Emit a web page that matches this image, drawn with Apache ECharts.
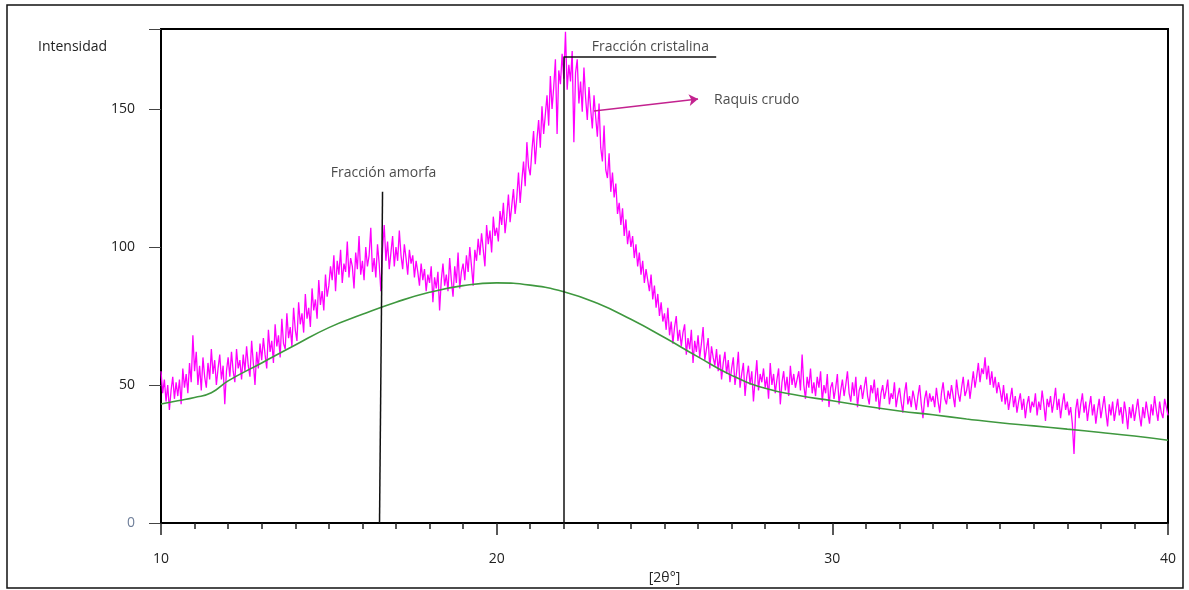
<!DOCTYPE html>
<html>
<head>
<meta charset="utf-8">
<script src="https://cdn.jsdelivr.net/npm/echarts@6/dist/echarts.min.js"></script>
<style>
html,body{margin:0;padding:0;background:#fff;}
#chart{width:1189px;height:590px;}
</style>
</head>
<body>
<div id="chart"></div>
<script>
// 2θ grid of the measured pattern
const thetaStart = 10;
const thetaStep = 0.05;

// Raquis crudo intensities (step 0.05°)
const intensity10to15 = [
  55,47,52,44,50,41,48,53,45,51,
  46,52,43,56,49,54,47,58,51,68,
  55,62,50,57,48,60,53,49,58,52,
  63,54,59,50,56,61,52,57,43,55,
  60,53,62,55,51,63,56,59,52,61,
  55,64,57,53,66,58,50,62,56,65,
  59,67,61,56,70,62,66,58,72,64,
  68,60,74,65,63,76,67,71,64,78,
  70,66,80,72,76,69,83,74,78,71,
  85,77,81,74,88,79,84,77,90,82
];
const intensity15to20 = [
  86,93,88,97,84,95,90,99,87,94,
  91,102,89,96,93,85,98,92,104,90,
  95,88,100,93,97,107,91,96,89,101,
  94,84,99,108,95,102,92,98,104,93,
  100,95,106,97,92,101,96,90,99,94,
  97,89,95,91,86,94,88,92,84,90,
  87,93,80,89,85,91,77,88,94,86,
  90,84,96,88,82,93,87,98,85,91,
  94,88,97,91,100,93,86,99,95,103,
  97,105,99,93,108,101,106,98,111,104
];
const intensity20to25 = [
  107,102,113,108,116,105,111,119,109,115,
  121,112,118,127,116,124,131,122,138,129,
  126,135,142,130,139,146,136,151,141,148,
  155,144,162,150,158,168,141,164,159,170,
  161,178,157,166,160,171,138,163,168,152,
  160,149,165,154,146,158,150,143,155,147,
  140,152,136,131,144,128,125,134,120,127,
  118,123,112,116,108,114,104,110,101,106,
  100,104,96,101,93,98,90,95,87,92,
  88,84,90,81,86,78,83,75,80,73
];
const intensity25to30 = [
  76,70,78,68,73,65,71,75,66,70,
  64,69,72,61,67,63,70,58,66,62,
  68,60,65,71,59,63,67,56,64,60,
  57,63,55,61,52,58,62,54,59,51,
  56,60,50,55,62,49,54,58,46,53,
  57,50,55,44,52,59,48,54,51,56,
  49,53,45,58,50,54,47,52,56,43,
  51,55,48,53,46,57,50,54,49,52,
  55,48,61,50,45,53,49,56,47,51,
  46,53,49,55,44,50,47,54,42,49
];
const intensity30to35 = [
  51,45,49,54,43,48,52,46,50,55,
  47,44,51,46,53,42,48,50,45,49,
  53,46,43,50,47,52,44,49,41,47,
  50,45,48,52,43,47,45,51,42,46,
  49,44,40,47,51,43,46,42,48,45,
  41,46,50,43,38,45,48,42,47,44,
  46,42,49,44,40,47,51,45,43,48,
  45,50,46,42,52,47,44,49,53,46,
  48,52,45,50,55,49,53,58,51,56,
  54,60,52,57,50,55,49,53,47,51
];
const intensity35to40 = [
  48,44,50,43,47,41,45,49,42,46,
  40,44,47,41,45,38,43,46,40,44,
  42,47,39,44,41,48,43,37,45,42,
  46,40,44,49,41,45,38,43,47,41,
  44,39,42,36,25,41,45,38,43,47,
  40,44,37,42,46,39,43,36,41,45,
  38,42,46,40,35,43,39,44,37,41,
  45,39,42,36,44,40,34,42,38,43,
  37,41,45,39,35,42,38,44,40,36,
  43,39,46,41,37,44,40,38,45,42,
  39
];

// Amorphous baseline (green)
const baselineTheta  = [10,10.5,11,11.5,12,13,14,15,16,17,18,19,20,21,22,23,24,25,26,27,28,29,30,31,32,33,34,35,36,37,38,39,40];
const baselineValues = [43.1,44.3,45.5,47.2,51.5,58,64.5,70.8,75.6,80,83.6,86,87,86.2,83.8,79.6,73.8,67.2,60.2,53.5,48.8,46.2,44.3,42.3,40.6,39.2,37.7,36.3,35.2,34,32.8,31.5,30];

// Axis
const xTicks = [10,20,30,40];
const yTicks = [0,50,100,150];

// Annotations (data coordinates)
const amorphLine   = [[16.51,0],[16.6,120]];
const crystalLineV = [[21.99,0],[21.99,168.8]];
const crystalLineH = [[21.99,168.8],[26.54,168.8]];
const rawArrow     = [[22.9,149.3],[26.0,153.6]];
const textAmorph   = {name:'Fracción amorfa', value:[16.63,126.8]};
const textCrystal  = {name:'Fracción cristalina', value:[24.58,172.6]};
const textRaw      = {name:'Raquis crudo', value:[27.75,153.3]};

const intensities = [].concat(intensity10to15,intensity15to20,intensity20to25,intensity25to30,intensity30to35,intensity35to40);
const rawData = intensities.map((v,i)=>[+(thetaStart + i*thetaStep).toFixed(2), v]);
const baseData = baselineTheta.map((t,i)=>[t, baselineValues[i]]);

const font = '"Open Sans", sans-serif';
const chart = echarts.init(document.getElementById('chart'), null, {renderer:'canvas'});
const seg = (a)=>[{coord:a[0]},{coord:a[1]}];

chart.setOption({
  animation:false,
  backgroundColor:'#fff',
  grid:{left:161, top:29, right:21, bottom:67, outerBoundsMode:'none', containLabel:false,
        show:true, borderColor:'#000', borderWidth:2, backgroundColor:'transparent'},
  xAxis:{
    type:'value', min:10, max:40, interval:10,
    name:'[2θ°]', nameLocation:'middle', nameGap:46,
    nameTextStyle:{fontFamily:font, fontSize:14, color:'#222'},
    axisLine:{show:true, onZero:false, lineStyle:{color:'#000', width:2}},
    axisTick:{show:true, inside:false, length:12, lineStyle:{color:'#222', width:1.5}},
    minorTick:{show:true, splitNumber:10, length:6, lineStyle:{color:'#222', width:1.5}},
    splitLine:{show:false},
    axisLabel:{fontFamily:font, fontSize:14, color:'#222', margin:29,
      formatter:(v)=> xTicks.includes(v) ? String(v) : ''}
  },
  yAxis:{
    type:'value', min:0, max:179, interval:50,
    axisLine:{show:true, lineStyle:{color:'#000', width:2}},
    axisTick:{show:true, length:12, lineStyle:{color:'#444', width:1}},
    splitLine:{show:false},
    axisLabel:{fontFamily:font, fontSize:14, margin:26,
      color:(v)=> (Number(v)===0 ? '#6f7f9a' : '#222'),
      formatter:(v)=> yTicks.includes(v) ? String(v) : ''}
  },
  graphic:[
    {type:'rect', silent:true, shape:{x:7,y:5,width:1176,height:583}, style:{fill:'none', stroke:'#111', lineWidth:1.5}},
    {type:'text', silent:true, style:{text:'Intensidad', x:38, y:47, verticalAlign:'middle', font:'14px "Open Sans", sans-serif', fill:'#222'}}
  ],
  series:[
    {
      name:'Raquis crudo', type:'line', data:rawData, showSymbol:false, symbol:'none',
      sampling:false, lineStyle:{color:'#ff00ff', width:1.3}, z:2, silent:true
    },
    {
      name:'Fracción amorfa', type:'line', data:baseData, smooth:0.5, showSymbol:false, symbol:'none',
      lineStyle:{color:'#3f983f', width:1.6}, z:3, silent:true
    },
    {
      name:'labels', type:'scatter', data:[textAmorph, textCrystal], symbolSize:0, z:5, silent:true,
      label:{show:true, position:'inside', formatter:'{b}', fontFamily:font, fontSize:14, color:'#1a1a1a'},
      markLine:{
        silent:true, symbol:'none', label:{show:false}, animation:false,
        lineStyle:{color:'#111', width:1.5, type:'solid'},
        emphasis:{disabled:true},
        data:[seg(amorphLine), seg(crystalLineV), seg(crystalLineH)]
      }
    },
    {
      name:'arrowLabel', type:'scatter', data:[textRaw], symbolSize:0, z:5, silent:true,
      label:{show:true, position:'inside', formatter:'{b}', fontFamily:font, fontSize:14, color:'#1a1a1a'},
      markLine:{
        silent:true, symbol:['none','arrow'], symbolSize:9, label:{show:false}, animation:false,
        lineStyle:{color:'#c3228f', width:1.5, type:'solid'},
        emphasis:{disabled:true},
        data:[seg(rawArrow)]
      }
    }
  ]
});
</script>
</body>
</html>
